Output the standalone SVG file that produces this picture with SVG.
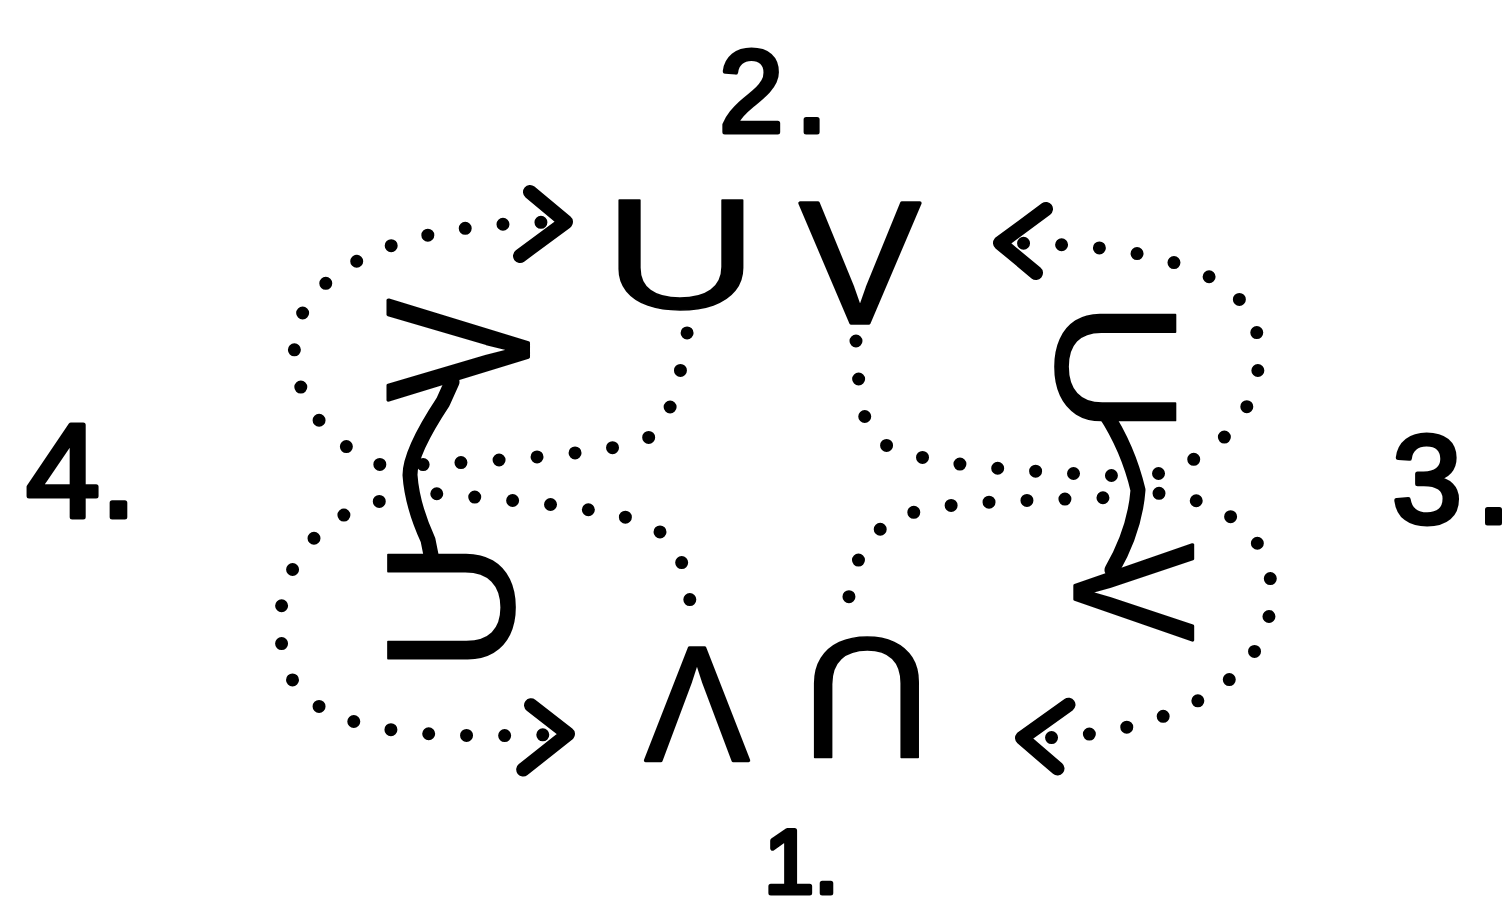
<svg xmlns="http://www.w3.org/2000/svg" width="1510" height="912" viewBox="0 0 1510 912">
  <style>
    .glyph { font-family: "Liberation Sans", Arial, sans-serif; fill: #000; stroke: #000; stroke-width: 1.5; stroke-linejoin: round; }
    .glyph.v { stroke-width: 3.5; }
    .label { font-family: "Liberation Sans", Arial, sans-serif; fill: #000; stroke: #000; stroke-width: 5; stroke-linejoin: round; }
    .stem { fill: none; stroke: #000; stroke-width: 15; stroke-linecap: round; stroke-linejoin: round; }
    .dots { fill: none; stroke: #000; stroke-width: 13; stroke-linecap: round; stroke-dasharray: 0 38; stroke-dashoffset: 19; }
    .arrow { marker-end: url(#chev); }
  </style>
  <defs>
    <marker id="chev" markerUnits="userSpaceOnUse" orient="auto" refX="0" refY="0" markerWidth="120" markerHeight="120" viewBox="-60 -60 120 120" overflow="visible">
      <path d="M -36 -30 L 0 0 L -46 34" fill="none" stroke="#000" stroke-width="14" stroke-linecap="round" stroke-linejoin="round"/>
    </marker>
  </defs>
  <rect width="1510" height="912" fill="#fff"/>

  <g id="connectors">
    <path class="dots arrow" d="M 398 470 C 295 445, 262 330, 330 280 C 380 236, 470 222, 566 222"/>
    <path class="dots arrow" d="M 398 498 C 300 510, 260 600, 290 675 C 320 740, 450 738, 568 734"/>
    <path class="dots arrow" d="M 1140 478 C 1230 460, 1265 400, 1258 340 C 1250 270, 1150 243, 1000 243"/>
    <path class="dots arrow" d="M 1140 492 C 1230 495, 1280 540, 1270 610 C 1260 690, 1150 740, 1022 738"/>
    <path class="dots" d="M 690 314 C 680 380, 672 430, 640 442 C 590 455, 480 462, 415 465"/>
    <path class="dots" d="M 418 492 C 500 500, 600 505, 650 525 C 685 545, 690 585, 691 620"/>
    <path class="dots" d="M 855 322 C 858 380, 860 430, 880 442 C 920 465, 1000 470, 1122 476"/>
    <path class="dots" d="M 1122 497 C 1000 502, 920 500, 885 525 C 855 550, 848 585, 848 615"/>
  </g>

  <g id="node-2">
    <text class="glyph" font-size="158" text-anchor="middle" y="55.6" transform="translate(681 252.5) scale(1.37 1)">U</text>
    <text class="glyph v" font-size="175" text-anchor="middle" y="62.7" transform="translate(860 260) scale(1.04 1)">V</text>
    <text class="label" x="719" y="132" font-size="116">2<tspan dx="12">.</tspan></text>
  </g>

  <g id="node-1">
    <text class="glyph v" font-size="163" text-anchor="middle" y="58.4" transform="translate(697 706) rotate(180) scale(0.96 1)">V</text>
    <text class="glyph" font-size="172" text-anchor="middle" y="60.5" transform="translate(866.5 699.5) rotate(180) scale(1.06 1)">U</text>
    <text class="label" x="764" y="893" font-size="90">1.</text>
  </g>

  <g id="node-4">
    <text class="glyph v" font-size="175" text-anchor="middle" y="62.7" transform="translate(455 350) rotate(-90) scale(0.87 1.157)">V</text>
    <text class="glyph" font-size="158" text-anchor="middle" y="55.6" transform="translate(449 606.5) rotate(-90) scale(1.16 1.148)">U</text>
    <path class="stem" d="M 452 382 L 443 402 Q 410 452 410 475 Q 412 505 428 540 L 432 560"/>
    <text class="label" x="26" y="517" font-size="133">4.</text>
  </g>

  <g id="node-3">
    <text class="glyph" font-size="158" text-anchor="middle" y="55.6" transform="translate(1117.5 367.5) rotate(90) scale(1.18 1.087)">U</text>
    <text class="glyph v" font-size="175" text-anchor="middle" y="62.7" transform="translate(1136 592.5) rotate(90) scale(0.83 0.974)">V</text>
    <path class="stem" d="M 1105 413 Q 1128 448 1138 490 Q 1135 530 1112 570"/>
    <text class="label" x="1392" y="523" font-size="126">3<tspan dx="14">.</tspan></text>
  </g>
</svg>
